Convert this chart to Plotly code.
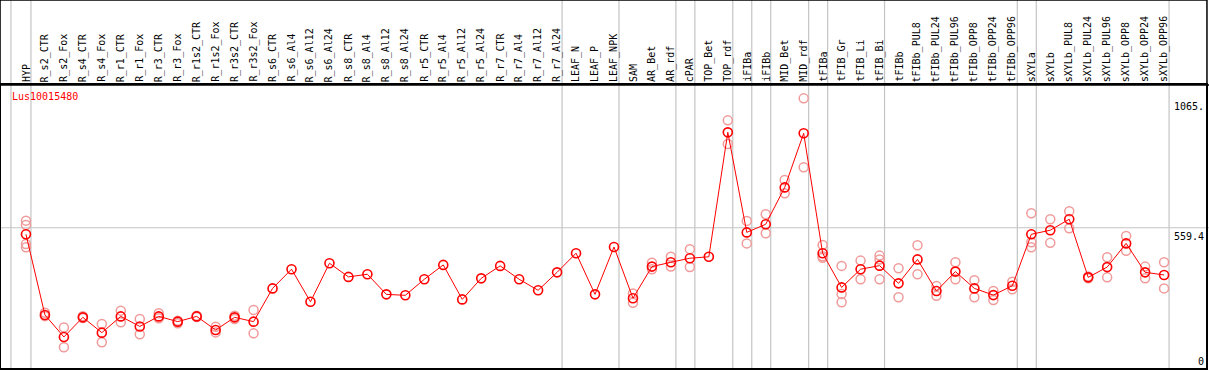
import plotly.graph_objects as go

categories = ["HYP","R_s2_CTR","R_s2_Fox","R_s4_CTR","R_s4_Fox","R_r1_CTR","R_r1_Fox","R_r3_CTR","R_r3_Fox",
              "R_r1s2_CTR","R_r1s2_Fox","R_r3s2_CTR","R_r3s2_Fox","R_s6_CTR","R_s6_Al4","R_s6_Al12","R_s6_Al24",
              "R_s8_CTR","R_s8_Al4","R_s8_Al12","R_s8_Al24","R_r5_CTR","R_r5_Al4","R_r5_Al12","R_r5_Al24",
              "R_r7_CTR","R_r7_Al4","R_r7_Al12","R_r7_Al24","LEAF_N","LEAF_P","LEAF_NPK","SAM","AR_Bet","AR_rdf",
              "cPAR","TOP_Bet","TOP_rdf","iFIBa","iFIBb","MID_Bet","MID_rdf","tFIBa","tFIB_Gr","tFIB_Li","tFIB_Bi",
              "tFIBb","tFIBb_PUL8","tFIBb_PUL24","tFIBb_PUL96","tFIBb_OPP8","tFIBb_OPP24","tFIBb_OPP96",
              "sXYLa","sXYLb","sXYLb_PUL8","sXYLb_PUL24","sXYLb_PUL96","sXYLb_OPP8","sXYLb_OPP24","sXYLb_OPP96"]

mean_values = [532,195,103,185,121,189,147,189,167,189,132,185,167,306,386,250,411,354,365,281,277,344,404,260,348,
               400,344,298,373,453,281,479,265,397,415,432,438,958,540,574,728,954,453,310,386,401,327,427,295,376,
               306,278,317,532,549,595,352,395,494,373,362]

replicates = {
    "HYP": [589, 571, 491, 478],
    "R_s2_CTR": [204, 190],
    "R_s2_Fox": [143, 60],
    "R_s4_CTR": [190, 182],
    "R_s4_Fox": [157, 81],
    "R_r1_CTR": [213, 164],
    "R_r1_Fox": [178, 114],
    "R_r3_CTR": [202, 181],
    "R_r3_Fox": [171, 160],
    "R_r1s2_CTR": [192, 186],
    "R_r1s2_Fox": [146, 122],
    "R_r3s2_CTR": [192, 178],
    "R_r3s2_Fox": [216, 118],
    "SAM": [285, 246],
    "AR_Bet": [413, 386],
    "AR_rdf": [438, 397],
    "cPAR": [470, 395],
    "TOP_rdf": [1008, 909],
    "iFIBa": [588, 494],
    "iFIBb": [616, 536],
    "MID_Bet": [759, 703],
    "MID_rdf": [1100, 812],
    "tFIBa": [487, 440, 434],
    "tFIB_Gr": [400, 282, 248],
    "tFIB_Li": [422, 344],
    "tFIB_Bi": [443, 427, 344],
    "tFIBb": [390, 269],
    "tFIBb_PUL8": [486, 365],
    "tFIBb_PUL24": [316, 275],
    "tFIBb_PUL96": [415, 344],
    "tFIBb_OPP8": [340, 269],
    "tFIBb_OPP24": [295, 257],
    "tFIBb_OPP96": [334, 302],
    "sXYLa": [620, 499, 478],
    "sXYLb": [595, 497],
    "sXYLb_PUL8": [628, 557],
    "sXYLb_PUL24": [356, 348],
    "sXYLb_PUL96": [436, 352],
    "sXYLb_OPP8": [525, 463],
    "sXYLb_OPP24": [397, 348],
    "sXYLb_OPP96": [415, 306],
}

group_ends = ["HYP","R_r7_Al24","LEAF_NPK","AR_rdf","cPAR","TOP_rdf","iFIBa","iFIBb","MID_rdf","tFIBa",
              "tFIB_Bi","tFIBb_OPP96","sXYLa","sXYLb_OPP96"]

axis_labels = [(1065, "1065."), (559.4, "559.4"), (0, "0")]
gene_name = "Lus10015480"

idx = {c: i for i, c in enumerate(categories)}
rep_x, rep_y = [], []
for c, vals in replicates.items():
    for v in vals:
        rep_x.append(idx[c]); rep_y.append(v)

MONO = "DejaVu Sans Mono"
fig = go.Figure()
fig.add_trace(go.Scatter(x=rep_x, y=rep_y, mode="markers",
                         marker=dict(symbol="circle-open", size=9, color="#f09a9a", line=dict(width=1.5)),
                         hoverinfo="y", showlegend=False))
fig.add_trace(go.Scatter(x=list(range(len(categories))), y=mean_values, mode="lines+markers",
                         line=dict(color="#ff0000", width=1),
                         marker=dict(symbol="circle-open", size=9, color="#ff0000", line=dict(width=1.6)),
                         hoverinfo="y", showlegend=False))

shapes = []
GRID = "#c4c4c4"
for xv in [-0.79] + [idx[c] + 0.263 for c in group_ends]:
    shapes.append(dict(type="line", xref="x", yref="paper", x0=xv, x1=xv, y0=0, y1=1.31,
                       line=dict(color=GRID, width=1.2), layer="below"))
shapes.append(dict(type="line", xref="paper", yref="y", x0=-0.01, x1=1.01, y0=559.4, y1=559.4,
                   line=dict(color=GRID, width=1.2), layer="below"))
shapes.append(dict(type="line", xref="paper", yref="paper", x0=-0.01, x1=1.01, y0=1, y1=1,
                   line=dict(color="black", width=1.5)))

annotations = []
for i, c in enumerate(categories):
    annotations.append(dict(x=i, y=1, xref="x", yref="paper", text=c, showarrow=False, textangle=-90,
                            xanchor="center", yanchor="bottom", yshift=1,
                            font=dict(family=MONO, size=10, color="black")))
annotations.append(dict(x=0.0075, y=1, xref="paper", yref="paper", text=gene_name, showarrow=False,
                        xanchor="left", yanchor="top", yshift=-4,
                        font=dict(family=MONO, size=10, color="#ff0000")))
for v, t in axis_labels:
    ya = "top" if t == "559.4" else "middle"
    annotations.append(dict(x=1, y=v, xref="paper", yref="y", text=t, showarrow=False,
                            xanchor="right", yanchor=ya, yshift=(-1 if ya == "top" else 0),
                            font=dict(family=MONO, size=10, color="black")))

fig.update_layout(
    width=1209, height=370,
    margin=dict(l=1, r=1, t=85, b=2),
    paper_bgcolor="white", plot_bgcolor="white",
    xaxis=dict(range=[-1.3158, 62.21], showgrid=False, zeroline=False, showticklabels=False,
               showline=True, linecolor="black", linewidth=1.5, mirror=True, fixedrange=True),
    yaxis=dict(range=[-26.7, 1155.8], showgrid=False, zeroline=False, showticklabels=False,
               showline=True, linecolor="black", linewidth=1.5, mirror=True, fixedrange=True),
    shapes=shapes, annotations=annotations,
)
fig.add_shape(type="rect", xref="paper", yref="paper", x0=-0.0008, x1=1.0008, y0=-0.004, y1=1.30,
              line=dict(color="black", width=1.5))

fig.write_html("out.html", config={"displayModeBar": False},
               post_script="document.body.style.margin='0';document.body.style.padding='0';document.body.style.overflow='hidden';")
